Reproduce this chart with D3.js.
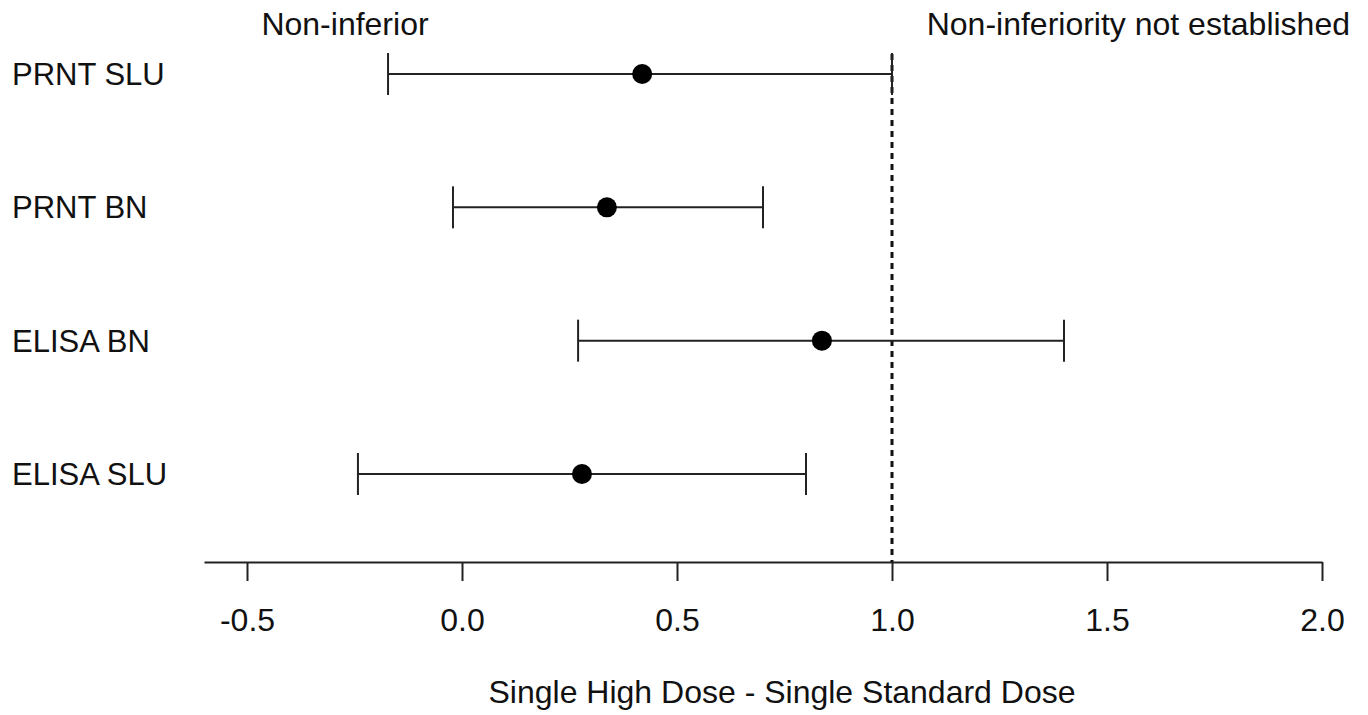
<!DOCTYPE html>
<html>
<head>
<meta charset="utf-8">
<script src="https://cdn.jsdelivr.net/npm/d3@7"></script>
<style>
  body { margin: 0; background: #fff; }
  svg text { font-family: "Liberation Sans", Arial, sans-serif; fill: #111; }
</style>
</head>
<body>
<svg id="chart" width="1368" height="715"></svg>
<script>
// Data
const labels = ["PRNT SLU", "PRNT BN", "ELISA BN", "ELISA SLU"];
const estimates = [0.419, 0.337, 0.837, 0.279];
const lowers = [-0.172, -0.021, 0.270, -0.242];
const uppers = [1.0, 0.700, 1.40, 0.800];
const xTicks = [-0.5, 0.0, 0.5, 1.0, 1.5, 2.0];
const margin = 1.0;

const svg = d3.select("#chart");
const width = 1368, height = 715;

const rows = labels.map((d, i) => ({ label: d, est: estimates[i], lo: lowers[i], hi: uppers[i] }));

// x scale: 430px per unit, 0 at 462
const x = d3.scaleLinear()
    .domain([-0.6, 2.0])
    .range([204, 1322]);

// y scale for rows
const y = d3.scalePoint()
    .domain(labels)
    .range([74, 474]);

const axisY = 562;

// x-axis
const axis = svg.append("g")
    .attr("transform", `translate(0, ${axisY})`)
    .call(d3.axisBottom(x)
        .tickValues(xTicks)
        .tickSize(19)
        .tickSizeOuter(0)
        .tickPadding(27)
        .tickFormat(d => d3.format(".1f")(d).replace("−", "-")));
axis.select(".domain").attr("stroke", "#222").attr("stroke-width", 2);
axis.selectAll(".tick line").attr("stroke", "#222").attr("stroke-width", 2);
axis.selectAll(".tick text").attr("font-size", "32px").attr("fill", "#111");

// Non-inferiority margin (dotted)
svg.append("line")
    .attr("x1", x(margin)).attr("x2", x(margin))
    .attr("y1", 54).attr("y2", axisY)
    .attr("stroke", "#111")
    .attr("stroke-width", 3)
    .attr("stroke-dasharray", "6,5");

// Error bars
const g = svg.append("g");
g.selectAll("line.ci")
    .data(rows)
    .enter().append("line")
    .attr("class", "ci")
    .attr("x1", d => x(d.lo)).attr("x2", d => x(d.hi))
    .attr("y1", d => y(d.label)).attr("y2", d => y(d.label))
    .attr("stroke", "#222").attr("stroke-width", 2);

["lo", "hi"].forEach(k => {
    g.selectAll("line.cap-" + k)
        .data(rows)
        .enter().append("line")
        .attr("x1", d => x(d[k])).attr("x2", d => x(d[k]))
        .attr("y1", d => y(d.label) - 21).attr("y2", d => y(d.label) + 21)
        .attr("stroke", "#222").attr("stroke-width", 2);
});

// Point estimates
g.selectAll("circle")
    .data(rows)
    .enter().append("circle")
    .attr("cx", d => x(d.est))
    .attr("cy", d => y(d.label))
    .attr("r", 10)
    .attr("fill", "#000");

// Row labels
svg.append("g")
    .selectAll("text")
    .data(rows)
    .enter().append("text")
    .attr("x", 12)
    .attr("y", d => y(d.label) + 11)
    .attr("font-size", "31px")
    .text(d => d.label);

// Region labels
svg.append("text")
    .attr("x", 345).attr("y", 35)
    .attr("text-anchor", "middle")
    .attr("font-size", "32px")
    .text("Non-inferior");

svg.append("text")
    .attr("x", 1350).attr("y", 35)
    .attr("text-anchor", "end")
    .attr("font-size", "32px")
    .text("Non-inferiority not established");

// X-axis label
svg.append("text")
    .attr("x", 782).attr("y", 703)
    .attr("text-anchor", "middle")
    .attr("font-size", "32px")
    .text("Single High Dose - Single Standard Dose");
</script>
</body>
</html>
